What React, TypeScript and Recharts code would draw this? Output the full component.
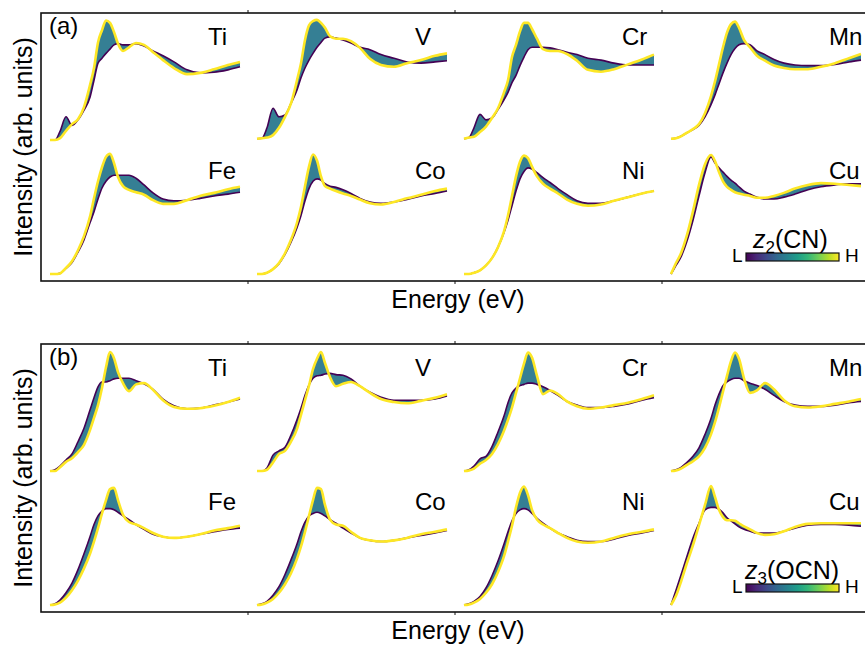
import React from 'react';
import { ComposedChart, Line, Area, XAxis, YAxis } from 'recharts';

// energy grid (relative, shared by every spectrum)
const X_GRID = [0, 5, 10, 16, 22, 28, 34, 40, 44, 48, 52, 56, 60, 64, 68, 73, 79, 86, 94, 103, 113, 124, 137, 150, 164, 178, 190];

// panel (a): z2(CN) low (L) and high (H) spectra
const A_TI_H = [0, 0, 0.015, 0.075, 0.13, 0.17, 0.27, 0.45, 0.59, 0.8, 0.9, 0.98, 0.96, 0.885, 0.79, 0.73, 0.76, 0.795, 0.78, 0.72, 0.655, 0.59, 0.54, 0.55, 0.58, 0.615, 0.64];
const A_TI_L = [0, 0, 0.07, 0.19, 0.12, 0.165, 0.245, 0.35, 0.49, 0.63, 0.67, 0.71, 0.745, 0.78, 0.79, 0.78, 0.78, 0.79, 0.77, 0.73, 0.69, 0.64, 0.575, 0.55, 0.555, 0.575, 0.6];
const A_V_H = [0.01, 0.015, 0.02, 0.04, 0.1, 0.19, 0.3, 0.49, 0.63, 0.82, 0.94, 0.975, 0.985, 0.96, 0.92, 0.85, 0.83, 0.83, 0.81, 0.755, 0.665, 0.615, 0.6, 0.63, 0.655, 0.69, 0.71];
const A_V_L = [0.01, 0.015, 0.1, 0.26, 0.19, 0.205, 0.3, 0.41, 0.51, 0.59, 0.655, 0.71, 0.76, 0.8, 0.835, 0.845, 0.835, 0.82, 0.795, 0.76, 0.74, 0.7, 0.67, 0.64, 0.63, 0.64, 0.65];
const A_CR_H = [0.01, 0.02, 0.027, 0.065, 0.11, 0.18, 0.26, 0.39, 0.49, 0.68, 0.78, 0.89, 0.96, 0.96, 0.91, 0.83, 0.745, 0.73, 0.73, 0.705, 0.65, 0.575, 0.56, 0.58, 0.62, 0.66, 0.7];
const A_CR_L = [0.01, 0.02, 0.1, 0.21, 0.165, 0.18, 0.25, 0.33, 0.39, 0.47, 0.53, 0.61, 0.68, 0.74, 0.76, 0.76, 0.76, 0.755, 0.74, 0.72, 0.7, 0.67, 0.655, 0.63, 0.615, 0.615, 0.615];
const A_MN_H = [0.01, 0.015, 0.03, 0.06, 0.09, 0.13, 0.22, 0.36, 0.48, 0.62, 0.76, 0.88, 0.95, 0.97, 0.92, 0.82, 0.76, 0.69, 0.65, 0.61, 0.59, 0.58, 0.58, 0.6, 0.63, 0.67, 0.705];
const A_MN_L = [0.01, 0.015, 0.03, 0.06, 0.085, 0.12, 0.19, 0.29, 0.37, 0.46, 0.55, 0.63, 0.7, 0.75, 0.78, 0.79, 0.78, 0.73, 0.7, 0.66, 0.63, 0.615, 0.61, 0.61, 0.62, 0.64, 0.655];
const A_FE_H = [0, 0, 0.005, 0.05, 0.105, 0.195, 0.31, 0.47, 0.62, 0.76, 0.875, 0.96, 0.985, 0.91, 0.795, 0.72, 0.69, 0.67, 0.65, 0.605, 0.575, 0.575, 0.605, 0.64, 0.665, 0.695, 0.715];
const A_FE_L = [0, 0, 0.005, 0.045, 0.095, 0.18, 0.28, 0.42, 0.51, 0.615, 0.705, 0.76, 0.795, 0.81, 0.81, 0.81, 0.81, 0.785, 0.73, 0.665, 0.615, 0.6, 0.605, 0.62, 0.64, 0.655, 0.67];
const A_CO_H = [0, 0, 0.01, 0.04, 0.09, 0.17, 0.28, 0.42, 0.55, 0.72, 0.88, 0.98, 0.93, 0.8, 0.72, 0.7, 0.68, 0.66, 0.64, 0.61, 0.58, 0.57, 0.59, 0.62, 0.65, 0.68, 0.7];
const A_CO_L = [0, 0, 0.01, 0.04, 0.085, 0.16, 0.26, 0.38, 0.48, 0.6, 0.7, 0.76, 0.78, 0.77, 0.74, 0.72, 0.71, 0.69, 0.66, 0.62, 0.59, 0.58, 0.59, 0.61, 0.64, 0.66, 0.68];
const A_NI_H = [0, 0, 0.01, 0.03, 0.07, 0.13, 0.22, 0.35, 0.48, 0.64, 0.8, 0.92, 0.97, 0.95, 0.88, 0.8, 0.74, 0.7, 0.66, 0.61, 0.575, 0.56, 0.57, 0.6, 0.63, 0.66, 0.68];
const A_NI_L = [0, 0, 0.01, 0.03, 0.07, 0.13, 0.22, 0.34, 0.44, 0.56, 0.68, 0.78, 0.84, 0.87, 0.86, 0.83, 0.79, 0.75, 0.7, 0.65, 0.6, 0.58, 0.58, 0.6, 0.63, 0.66, 0.68];
const A_CU_H = [0, 0.09, 0.17, 0.32, 0.515, 0.73, 0.9, 0.975, 0.925, 0.835, 0.76, 0.715, 0.69, 0.67, 0.66, 0.65, 0.64, 0.625, 0.625, 0.64, 0.665, 0.7, 0.73, 0.745, 0.74, 0.73, 0.72];
const A_CU_L = [0, 0.07, 0.14, 0.27, 0.44, 0.64, 0.83, 0.96, 0.91, 0.87, 0.835, 0.8, 0.77, 0.745, 0.715, 0.68, 0.655, 0.63, 0.615, 0.615, 0.63, 0.655, 0.69, 0.715, 0.73, 0.74, 0.74];

// panel (b): z3(OCN) low (L) and high (H) spectra
const B_TI_H = [0, 0, 0.03, 0.075, 0.105, 0.155, 0.215, 0.335, 0.435, 0.54, 0.68, 0.85, 0.975, 0.925, 0.81, 0.72, 0.655, 0.71, 0.72, 0.665, 0.58, 0.525, 0.51, 0.515, 0.535, 0.565, 0.6];
const B_TI_L = [0, 0.01, 0.04, 0.09, 0.14, 0.24, 0.35, 0.5, 0.6, 0.69, 0.73, 0.73, 0.74, 0.755, 0.76, 0.76, 0.76, 0.74, 0.715, 0.67, 0.59, 0.535, 0.51, 0.515, 0.54, 0.565, 0.59];
const B_V_H = [0, 0, 0.01, 0.07, 0.14, 0.165, 0.24, 0.345, 0.46, 0.58, 0.7, 0.835, 0.92, 0.975, 0.885, 0.77, 0.695, 0.715, 0.73, 0.695, 0.64, 0.59, 0.565, 0.555, 0.575, 0.6, 0.63];
const B_V_L = [0, 0, 0.025, 0.13, 0.165, 0.195, 0.295, 0.42, 0.515, 0.62, 0.705, 0.76, 0.78, 0.785, 0.795, 0.8, 0.79, 0.785, 0.755, 0.695, 0.645, 0.605, 0.58, 0.58, 0.58, 0.59, 0.615];
const B_CR_H = [0, 0.005, 0.02, 0.06, 0.09, 0.14, 0.22, 0.33, 0.42, 0.52, 0.64, 0.76, 0.88, 0.97, 0.93, 0.78, 0.63, 0.66, 0.63, 0.57, 0.53, 0.51, 0.52, 0.54, 0.56, 0.59, 0.62];
const B_CR_L = [0, 0.01, 0.04, 0.1, 0.12, 0.2, 0.32, 0.45, 0.56, 0.64, 0.68, 0.7, 0.71, 0.72, 0.72, 0.71, 0.69, 0.66, 0.62, 0.57, 0.54, 0.52, 0.52, 0.53, 0.55, 0.58, 0.6];
const B_MN_H = [0, 0.005, 0.02, 0.05, 0.08, 0.12, 0.19, 0.3, 0.4, 0.52, 0.65, 0.78, 0.9, 0.97, 0.92, 0.76, 0.64, 0.66, 0.72, 0.67, 0.58, 0.53, 0.52, 0.53, 0.55, 0.57, 0.59];
const B_MN_L = [0, 0.01, 0.03, 0.07, 0.12, 0.19, 0.3, 0.43, 0.54, 0.63, 0.7, 0.73, 0.75, 0.76, 0.76, 0.74, 0.72, 0.7, 0.67, 0.62, 0.57, 0.54, 0.53, 0.53, 0.54, 0.56, 0.57];
const B_FE_H = [0, 0.005, 0.02, 0.06, 0.12, 0.2, 0.3, 0.42, 0.52, 0.63, 0.75, 0.86, 0.95, 0.96, 0.86, 0.74, 0.68, 0.66, 0.63, 0.59, 0.56, 0.55, 0.56, 0.58, 0.61, 0.63, 0.65];
const B_FE_L = [0, 0.01, 0.04, 0.1, 0.18, 0.29, 0.42, 0.56, 0.66, 0.73, 0.77, 0.79, 0.79, 0.78, 0.76, 0.73, 0.7, 0.66, 0.62, 0.58, 0.56, 0.55, 0.56, 0.58, 0.6, 0.62, 0.63];
const B_CO_H = [0, 0.005, 0.02, 0.05, 0.1, 0.17, 0.26, 0.38, 0.48, 0.6, 0.73, 0.86, 0.96, 0.95, 0.82, 0.7, 0.66, 0.65, 0.6, 0.55, 0.53, 0.52, 0.53, 0.55, 0.58, 0.6, 0.62];
const B_CO_L = [0, 0.01, 0.03, 0.08, 0.15, 0.25, 0.37, 0.5, 0.6, 0.68, 0.73, 0.75, 0.76, 0.75, 0.73, 0.7, 0.67, 0.63, 0.59, 0.55, 0.53, 0.52, 0.53, 0.55, 0.57, 0.59, 0.61];
const B_NI_H = [0, 0.005, 0.02, 0.05, 0.1, 0.17, 0.27, 0.4, 0.52, 0.65, 0.8, 0.92, 0.97, 0.9, 0.78, 0.7, 0.66, 0.63, 0.59, 0.55, 0.52, 0.51, 0.52, 0.55, 0.58, 0.6, 0.62];
const B_NI_L = [0, 0.01, 0.03, 0.07, 0.14, 0.24, 0.36, 0.5, 0.6, 0.69, 0.75, 0.78, 0.79, 0.78, 0.75, 0.71, 0.67, 0.63, 0.59, 0.56, 0.53, 0.52, 0.52, 0.54, 0.57, 0.59, 0.61];
const B_CU_H = [0, 0.075, 0.19, 0.345, 0.49, 0.655, 0.82, 0.975, 0.885, 0.78, 0.72, 0.695, 0.695, 0.69, 0.67, 0.645, 0.62, 0.59, 0.575, 0.58, 0.605, 0.64, 0.665, 0.67, 0.67, 0.67, 0.67];
const B_CU_L = [0, 0.12, 0.245, 0.4, 0.55, 0.67, 0.78, 0.8, 0.8, 0.785, 0.755, 0.715, 0.69, 0.665, 0.64, 0.62, 0.605, 0.59, 0.59, 0.59, 0.605, 0.63, 0.655, 0.66, 0.66, 0.655, 0.645];

const ELEMENTS = ['Ti', 'V', 'Cr', 'Mn', 'Fe', 'Co', 'Ni', 'Cu'];
const PANEL_A = [
  [A_TI_L, A_TI_H], [A_V_L, A_V_H], [A_CR_L, A_CR_H], [A_MN_L, A_MN_H],
  [A_FE_L, A_FE_H], [A_CO_L, A_CO_H], [A_NI_L, A_NI_H], [A_CU_L, A_CU_H],
];
const PANEL_B = [
  [B_TI_L, B_TI_H], [B_V_L, B_V_H], [B_CR_L, B_CR_H], [B_MN_L, B_MN_H],
  [B_FE_L, B_FE_H], [B_CO_L, B_CO_H], [B_NI_L, B_NI_H], [B_CU_L, B_CU_H],
];

const VIRIDIS = ['#440154', '#482878', '#3e4a89', '#31688e', '#26828e', '#1f9e89', '#35b779', '#6ece58', '#b5de2b', '#fde725'];

const COL_W = 207;
const ROW_H = 134;
const FRAME_L = 41;
const PANEL_TOPS = [13, 344];
const FONT = '"Liberation Sans", Arial, Helvetica, sans-serif';

function Spectrum({ lo, hi }: { lo: number[]; hi: number[] }) {
  const data = X_GRID.map((x, i) => ({ x, lo: lo[i], hi: hi[i], band: [lo[i], hi[i]] }));
  return (
    <ComposedChart width={COL_W} height={ROW_H} data={data} margin={{ top: 5, right: 8, bottom: 7, left: 9 }}>
      <XAxis type="number" dataKey="x" domain={[0, 190]} hide />
      <YAxis type="number" domain={[0, 1]} hide />
      <Area type="monotone" dataKey="band" fill="#2a788e" fillOpacity={0.95} stroke="none" isAnimationActive={false} />
      <Line type="monotone" dataKey="lo" stroke="#440154" strokeWidth={1.6} dot={false} isAnimationActive={false} />
      <Line type="monotone" dataKey="hi" stroke="#fde725" strokeWidth={2.6} dot={false} isAnimationActive={false} />
    </ComposedChart>
  );
}

function Panel({ top, spectra }: { top: number; spectra: number[][][] }) {
  return (
    <>
      {spectra.map((s, i) => {
        const c = i % 4;
        const r = Math.floor(i / 4);
        return (
          <div key={i} style={{ position: 'absolute', left: FRAME_L + c * COL_W, top: top + r * ROW_H }}>
            <Spectrum lo={s[0]} hi={s[1]} />
          </div>
        );
      })}
    </>
  );
}

function Overlay() {
  const frameW = COL_W * 4;
  const frameH = ROW_H * 2;
  return (
    <svg width={865} height={645} style={{ position: 'absolute', left: 0, top: 0, pointerEvents: 'none' }} fontFamily={FONT}>
      <defs>
        <linearGradient id="vir" x1="0" x2="1" y1="0" y2="0">
          {VIRIDIS.map((c, i) => (
            <stop key={i} offset={i / (VIRIDIS.length - 1)} stopColor={c} />
          ))}
        </linearGradient>
      </defs>
      {PANEL_TOPS.map((t, p) => (
        <g key={p}>
          <rect x={FRAME_L} y={t} width={frameW} height={frameH} fill="none" stroke="#111" strokeWidth={1.6} />
          {[1, 2, 3].map((k) => (
            <g key={k}>
              <line x1={FRAME_L + k * COL_W} x2={FRAME_L + k * COL_W} y1={t} y2={t - 3} stroke="#111" strokeWidth={1} />
              <line x1={FRAME_L + k * COL_W} x2={FRAME_L + k * COL_W} y1={t + frameH} y2={t + frameH + 3} stroke="#111" strokeWidth={1} />
            </g>
          ))}
          <text x={49} y={t + 21} fontSize={24} fill="#000">{p === 0 ? '(a)' : '(b)'}</text>
          {ELEMENTS.map((el, i) => (
            <text key={el} x={FRAME_L + (i % 4) * COL_W + 167} y={t + Math.floor(i / 4) * ROW_H + 32} fontSize={24} fill="#000">
              {el}
            </text>
          ))}
          <text transform={`translate(32, ${t + frameH / 2}) rotate(-90)`} textAnchor="middle" fontSize={25} fill="#000">
            Intensity (arb. units)
          </text>
          <text x={458} y={t + frameH + 27} textAnchor="middle" fontSize={25} fill="#000">
            Energy (eV)
          </text>
          <rect x={746} y={t + frameH - 28} width={93} height={8} fill="url(#vir)" stroke="#111" strokeWidth={1.2} />
          <text x={732} y={t + frameH - 19} fontSize={19} fill="#000">L</text>
          <text x={845} y={t + frameH - 19} fontSize={19} fill="#000">H</text>
          <text x={p === 0 ? 753 : 745} y={t + frameH - 33} fontSize={25} fill="#000">
            <tspan fontStyle="italic">z</tspan>
            <tspan fontSize={17} dy={5}>{p === 0 ? '2' : '3'}</tspan>
            <tspan dy={-5}>{p === 0 ? '(CN)' : '(OCN)'}</tspan>
          </text>
        </g>
      ))}
    </svg>
  );
}

export default function App() {
  return (
    <div style={{ position: 'absolute', left: 0, top: 0, width: 865, height: 645, background: '#fff', overflow: 'hidden' }}>
      <Panel top={PANEL_TOPS[0]} spectra={PANEL_A} />
      <Panel top={PANEL_TOPS[1]} spectra={PANEL_B} />
      <Overlay />
    </div>
  );
}
